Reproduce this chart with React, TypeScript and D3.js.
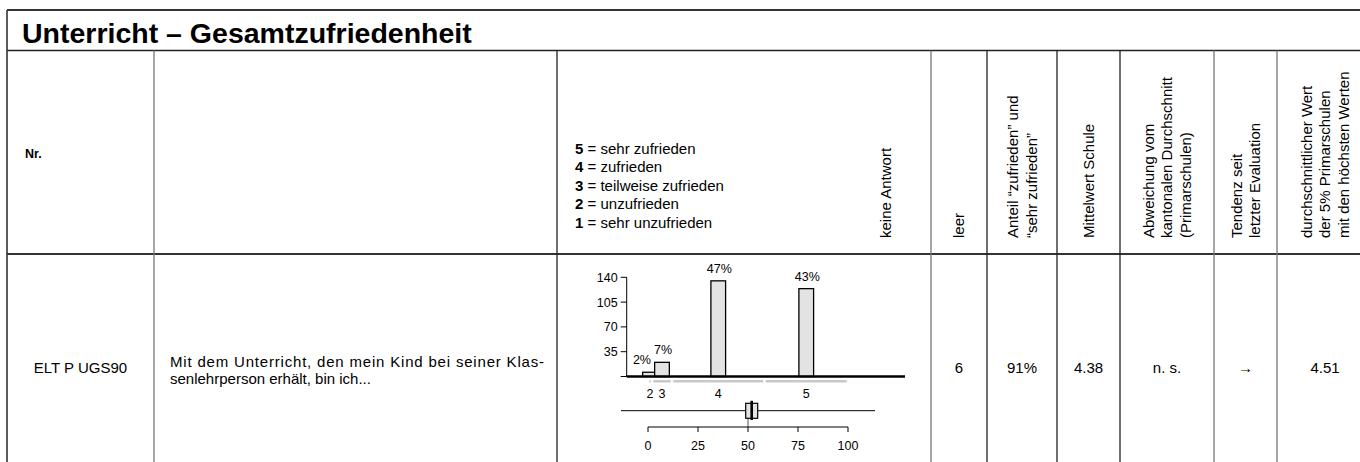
import React from "react";
import * as d3 from "d3";

// ---------- data ----------
const title = "Unterricht – Gesamtzufriedenheit";
const legendCodes = ["5", "4", "3", "2", "1"];
const legendLabels = ["sehr zufrieden", "zufrieden", "teilweise zufrieden", "unzufrieden", "sehr unzufrieden"];
const categories = ["2", "3", "4", "5"];
const counts = [6, 20, 135, 124];
const pctLabels = ["2%", "7%", "47%", "43%"];
const segBounds = [0, 2, 12, 58.25, 100];
const yTicks = [0, 35, 70, 105, 140];
const pTicks = [0, 25, 50, 75, 100];
const boxStats = [-13.5, 48.85, 51.85, 54.85, 113.5]; // lo, q1, median, q3, hi
const refValue = 50;
const headerLines = [
  ["leer"],
  ["Anteil “zufrieden” und", "“sehr zufrieden”"],
  ["Mittelwert Schule"],
  ["Abweichung vom", "kantonalen Durchschnitt", "(Primarschulen)"],
  ["Tendenz seit", "letzter Evaluation"],
  ["durchschnittlicher Wert", "der 5% Primarschulen", "mit den höchsten Werten"],
];
const itemId = "ELT P UGS90";
const questionLines = ["Mit dem Unterricht, den mein Kind bei seiner Klas-", "senlehrperson erhält, bin ich..."];
const rowValues = ["6", "91%", "4.38", "n. s.", "→", "4.51"];

// ---------- layout ----------
const W = 1360, H = 462;
const FONT = "'Liberation Sans', Arial, sans-serif";
const colX = [7, 154, 557, 931, 987, 1057, 1120, 1214, 1277, 1373];
const colColor = ["#333", "#777", "#222", "#777", "#222", "#222", "#222", "#777", "#777", "#777"];
const tableTop = 10, titleBottom = 50.5, headBottom = 254;
const rowMid = 368;

export default function App() {
  const y = d3.scaleLinear().domain([0, 140]).range([376.5, 277.3]);
  const xp = d3.scaleLinear().domain([0, 100]).range([648, 848]);
  const axisX = 626.7;
  const barW = 14.7;
  const segs = categories.map((c, i) => ({ c, a: segBounds[i], b: segBounds[i + 1], n: counts[i], lab: pctLabels[i] }));

  return (
    <svg width={W} height={H} style={{ position: "absolute", left: 0, top: 0, background: "#fff" }} fontFamily={FONT}>
      <rect width={W} height={H} fill="#fff" />
      {/* table lines */}
      <line x1={colX[0]} x2={W + 20} y1={tableTop} y2={tableTop} stroke="#333" strokeWidth={2} />
      <line x1={colX[0]} x2={W + 20} y1={titleBottom} y2={titleBottom} stroke="#222" strokeWidth={1.6} />
      <line x1={colX[0]} x2={W + 20} y1={headBottom} y2={headBottom} stroke="#333" strokeWidth={2.2} />
      <line x1={colX[0]} x2={colX[0]} y1={tableTop} y2={H + 5} stroke="#333" strokeWidth={1.6} />
      {colX.slice(1).map((x, i) => (
        <line key={i} x1={x} x2={x} y1={titleBottom} y2={H + 5} stroke={colColor[i + 1]} strokeWidth={1.3} />
      ))}

      {/* title */}
      <text x={22} y={43} fontSize={28.5} fontWeight="bold" fill="#000">{title}</text>

      {/* header row */}
      <text x={25} y={158} fontSize={12.5} fontWeight="bold">Nr.</text>
      {legendCodes.map((c, i) => (
        <text key={c} x={575} y={153.5 + i * 18.5} fontSize={15}>
          <tspan fontWeight="bold">{c}</tspan> = {legendLabels[i]}
        </text>
      ))}
      <text transform={`translate(890.5,238) rotate(-90)`} fontSize={15}>keine Antwort</text>
      {headerLines.map((lines, ci) => {
        const cx = (colX[3 + ci] + colX[4 + ci]) / 2;
        const n = lines.length;
        return lines.map((l, li) => {
          const bx = cx + (li - (n - 1) / 2) * 18.3 + 5.4;
          return (
            <text key={ci + "-" + li} transform={`translate(${bx},238) rotate(-90)`} fontSize={15}>{l}</text>
          );
        });
      })}

      {/* data row */}
      <text x={(colX[0] + colX[1]) / 2} y={rowMid + 5} fontSize={15} textAnchor="middle">{itemId}</text>
      <text x={170} y={rowMid - 1} fontSize={15} textLength={374} lengthAdjust="spacing">{questionLines[0]}</text>
      <text x={170} y={rowMid + 16} fontSize={15}>{questionLines[1]}</text>
      {rowValues.map((v, i) => (
        <text key={i} x={(colX[3 + i] + colX[4 + i]) / 2} y={rowMid + 5} fontSize={15} textAnchor="middle">{v}</text>
      ))}

      {/* histogram */}
      <g fontSize={12.5}>
        <line x1={axisX} x2={axisX} y1={y(0)} y2={y(140)} stroke="#000" strokeWidth={1} />
        {yTicks.map((t) => (
          <g key={t}>
            <line x1={axisX - 6} x2={axisX} y1={y(t)} y2={y(t)} stroke="#000" strokeWidth={1} />
            {t > 0 && (
              <text x={axisX - 9} y={y(t) + 4.5} textAnchor="end">{t}</text>
            )}
          </g>
        ))}
        {segs.map((s, i) => {
          const cx = xp((s.a + s.b) / 2);
          return (
            <g key={s.c}>
              <rect x={cx - barW / 2} y={y(s.n)} width={barW} height={y(0) - y(s.n)} fill="#e3e3e3" stroke="#000" strokeWidth={1.3} />
              <text x={cx + 1} y={y(s.n) - 8} textAnchor={i === 0 ? "end" : "middle"}>{s.lab}</text>
              <line x1={xp(s.a) + 1.25} x2={xp(s.b) - 1.25} y1={381.3} y2={381.3} stroke="#c8c8c8" strokeWidth={2.5} />
              <text x={cx} y={397.5} textAnchor="middle">{s.c}</text>
            </g>
          );
        })}
        <line x1={axisX} x2={905} y1={y(0)} y2={y(0)} stroke="#000" strokeWidth={2.6} />

        {/* box plot */}
        <line x1={xp(boxStats[0])} x2={xp(boxStats[4])} y1={410.7} y2={410.7} stroke="#000" strokeWidth={1} />
        <line x1={xp(refValue)} x2={xp(refValue)} y1={418} y2={427} stroke="#555" strokeWidth={1} />
        <rect x={xp(boxStats[1])} y={403.3} width={xp(boxStats[3]) - xp(boxStats[1])} height={15} fill="#e3e3e3" stroke="#000" strokeWidth={1.2} />
        <line x1={xp(boxStats[2])} x2={xp(boxStats[2])} y1={400.8} y2={420} stroke="#000" strokeWidth={2.6} />

        {/* percent axis */}
        <line x1={xp(0)} x2={xp(100)} y1={427} y2={427} stroke="#000" strokeWidth={1} />
        {pTicks.map((t) => (
          <g key={t}>
            <line x1={xp(t)} x2={xp(t)} y1={427} y2={432} stroke="#000" strokeWidth={1} />
            <text x={xp(t)} y={449.5} textAnchor="middle">{t}</text>
          </g>
        ))}
      </g>
    </svg>
  );
}
